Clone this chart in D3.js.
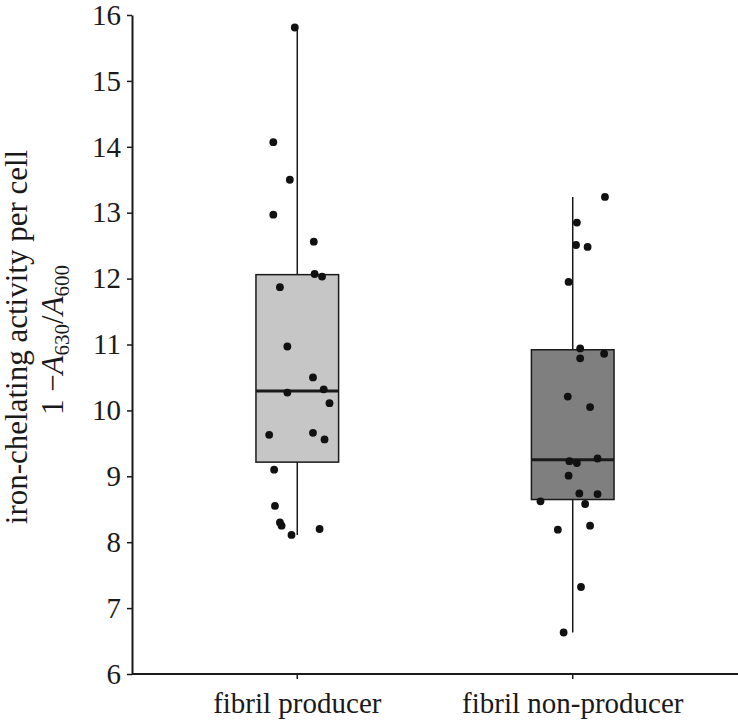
<!DOCTYPE html>
<html>
<head>
<meta charset="utf-8">
<script src="https://cdn.jsdelivr.net/npm/d3@7"></script>
<style>
  html, body { margin: 0; padding: 0; background: #fff; }
  svg { display: block; }
  text { font-family: "Liberation Serif", "DejaVu Serif", serif; fill: #1a1a1a; }
</style>
</head>
<body>
<svg id="chart" width="738" height="720"></svg>
<script>
// ---- data ----
const categories = ["fibril producer", "fibril non-producer"];
const producerValues = [15.81, 14.07, 13.50, 12.97, 12.56, 12.07, 12.03, 11.87, 10.97, 10.50, 10.27,
                        10.32, 10.11, 9.63, 9.66, 9.56, 9.10, 8.55, 8.30, 8.25, 8.11, 8.20];
const producerJitter = [-0.03, -0.29, -0.09, -0.29, 0.20, 0.21, 0.30, -0.21, -0.12, 0.19, -0.12,
                        0.32, 0.39, -0.34, 0.19, 0.33, -0.28, -0.27, -0.21, -0.19, -0.07, 0.27];
const nonProducerValues = [13.24, 12.85, 12.51, 12.48, 11.95, 10.94, 10.86, 10.79, 10.21, 10.05, 9.23,
                           9.20, 9.27, 9.01, 8.74, 8.73, 8.62, 8.58, 8.19, 8.25, 7.32, 6.63];
const nonProducerJitter = [0.39, 0.05, 0.04, 0.18, -0.05, 0.09, 0.38, 0.09, -0.06, 0.21, -0.04,
                           0.05, 0.30, -0.05, 0.08, 0.30, -0.39, 0.15, -0.18, 0.21, 0.10, -0.11];
const boxColors = ["#c6c6c6", "#7f7f7f"];
const yTicks = [6, 7, 8, 9, 10, 11, 12, 13, 14, 15, 16];

const groups = [
  { name: categories[0], values: producerValues, jitter: producerJitter, fill: boxColors[0] },
  { name: categories[1], values: nonProducerValues, jitter: nonProducerJitter, fill: boxColors[1] }
];

// ---- layout ----
const svg = d3.select("#chart");
const mLeft = 132, mRight = 738, mTop = 15, mBottom = 674;
const ink = "#1a1a1a";

const x = d3.scaleBand().domain(categories).range([mLeft, mRight]).paddingInner(0).paddingOuter(0.1);
const y = d3.scaleLinear().domain([6, 16]).range([mBottom, mTop]);
const boxW = x.bandwidth() * 0.3;

// Y axis
const yAxis = svg.append("g").attr("transform", `translate(${mLeft},0)`)
  .call(d3.axisLeft(y).tickValues(yTicks).tickFormat(d3.format("d")).tickSize(5).tickSizeOuter(0).tickPadding(6));
yAxis.select(".domain").attr("stroke", ink).attr("stroke-width", 2);
yAxis.selectAll(".tick line").attr("stroke", ink).attr("stroke-width", 1.5);
yAxis.selectAll(".tick text").attr("font-size", 29).attr("font-family", "Liberation Serif").attr("fill", ink);

// X axis
const xAxis = svg.append("g").attr("transform", `translate(0,${mBottom})`)
  .call(d3.axisBottom(x).tickSize(5).tickSizeOuter(0));
xAxis.select(".domain").attr("d", `M${mLeft},0H${mRight}`).attr("stroke", ink).attr("stroke-width", 2);
xAxis.selectAll(".tick line").attr("stroke", ink).attr("stroke-width", 1.5);
xAxis.selectAll(".tick text").attr("font-size", 29).attr("font-family", "Liberation Serif")
  .attr("fill", ink).attr("y", 39).attr("dy", 0);

// Y title
const title = svg.append("g").attr("transform", "rotate(-90)");
title.append("text").attr("x", -337).attr("y", 27).attr("text-anchor", "middle")
  .attr("font-size", 31).text("iron-chelating activity per cell");
const t2 = title.append("text").attr("x", -340).attr("y", 63).attr("text-anchor", "middle").attr("font-size", 31);
t2.append("tspan").text("1 \u2212");
t2.append("tspan").attr("font-style", "italic").text("A");
t2.append("tspan").attr("font-size", 21).attr("dy", 6).text("630");
t2.append("tspan").attr("dy", -6).text("/");
t2.append("tspan").attr("font-style", "italic").text("A");
t2.append("tspan").attr("font-size", 21).attr("dy", 6).text("600");

// Boxes
groups.forEach(g => {
  const s = g.values.slice().sort(d3.ascending);
  const q1 = d3.quantile(s, 0.25), med = d3.quantile(s, 0.5), q3 = d3.quantile(s, 0.75);
  const lo = d3.min(s), hi = d3.max(s);
  const cx = x(g.name) + x.bandwidth() / 2;
  const gg = svg.append("g");
  gg.append("line").attr("x1", cx).attr("x2", cx).attr("y1", y(hi)).attr("y2", y(lo))
    .attr("stroke", ink).attr("stroke-width", 1.5);
  gg.append("rect").attr("x", cx - boxW / 2).attr("width", boxW)
    .attr("y", y(q3)).attr("height", y(q1) - y(q3))
    .attr("fill", g.fill).attr("stroke", ink).attr("stroke-width", 1.5);
  gg.append("line").attr("x1", cx - boxW / 2).attr("x2", cx + boxW / 2)
    .attr("y1", y(med)).attr("y2", y(med)).attr("stroke", ink).attr("stroke-width", 3);
  gg.selectAll("circle").data(g.values.map((v, i) => ({ v, j: g.jitter[i] })))
    .join("circle")
    .attr("cx", d => cx + d.j * boxW)
    .attr("cy", d => y(d.v))
    .attr("r", 3.9)
    .attr("fill", "#111");
});
</script>
</body>
</html>
